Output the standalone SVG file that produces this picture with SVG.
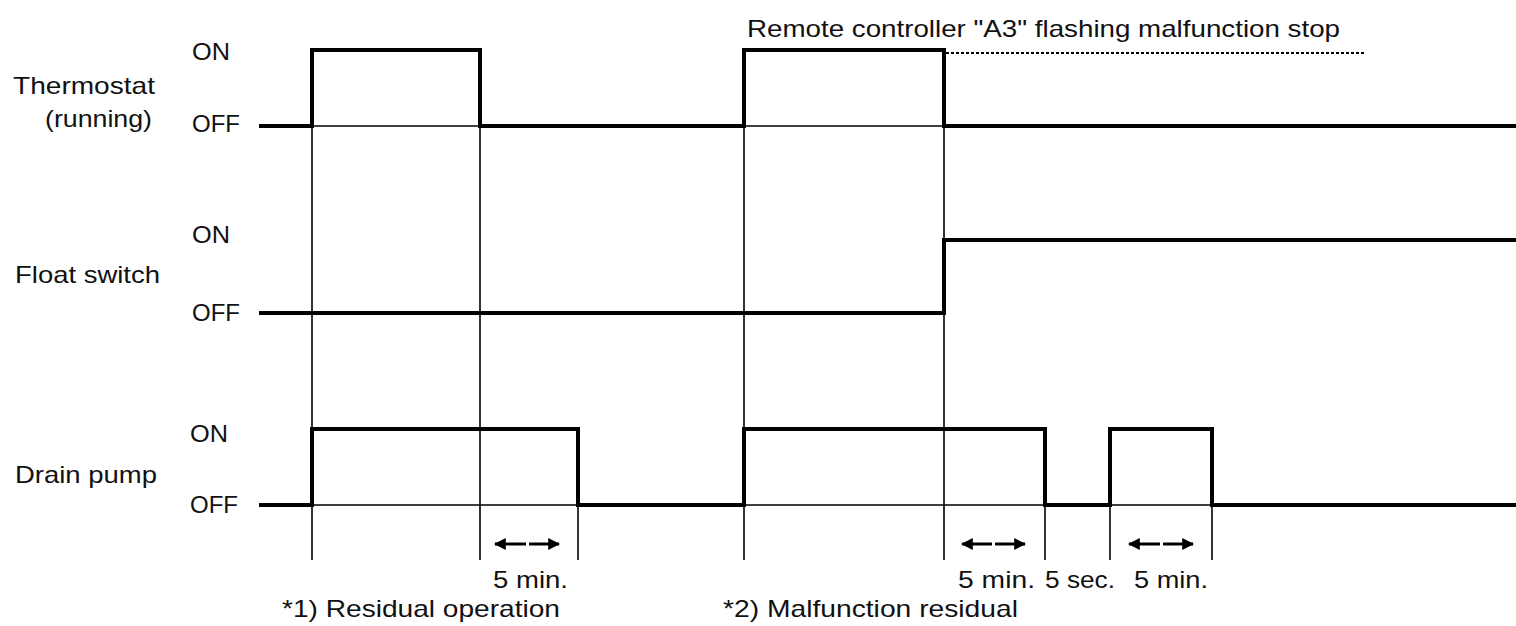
<svg xmlns="http://www.w3.org/2000/svg" width="1516" height="626" viewBox="0 0 1516 626">
<style>
  text { font-family: "Liberation Sans", Arial, sans-serif; font-size: 24px; fill: #111; }
  .thick { fill: none; stroke: #000; stroke-width: 4; stroke-linejoin: miter; stroke-linecap: butt; }
  .thin { fill: none; stroke: #000; stroke-width: 1.6; }
  .dot { fill: none; stroke: #000; stroke-width: 1.8; stroke-dasharray: 3 2; }
  .arr { fill: none; stroke: #000; stroke-width: 3; }
</style>
<defs>
  <marker id="ah" viewBox="0 0 10 10" refX="9" refY="5" markerWidth="12" markerHeight="12" markerUnits="userSpaceOnUse" orient="auto">
    <path d="M0,0 L10,5 L0,10 z" fill="#000"/>
  </marker>
</defs>
<rect width="1516" height="626" fill="#fff"/>

<g id="guides">
  <path class="thin" d="M312,127 V560 M480,127 V560 M744,127 V560 M944,127 V560 M578,505 V560 M1045,505 V560 M1110,505 V560 M1212,505 V560"/>
  <path class="thin" d="M312,126 H480 M744,126 H944 M312,505 H578 M744,505 H1045 M1110,505 H1212"/>
</g>

<g id="thermostat">
  <text x="13" y="94" textLength="142" lengthAdjust="spacingAndGlyphs">Thermostat</text>
  <text x="45" y="127" textLength="107" lengthAdjust="spacingAndGlyphs">(running)</text>
  <text x="192" y="60" textLength="38" lengthAdjust="spacingAndGlyphs">ON</text>
  <text x="192" y="132" textLength="48" lengthAdjust="spacingAndGlyphs">OFF</text>
  <path class="thick" d="M259,126 H312 V50 H480 V126 H744 V50 H944 V126 H1516"/>
  <path class="dot" d="M946,53 H1364"/>
  <text x="747" y="37" textLength="593" lengthAdjust="spacingAndGlyphs">Remote controller "A3" flashing malfunction stop</text>
</g>

<g id="float-switch">
  <text x="15" y="283" textLength="145" lengthAdjust="spacingAndGlyphs">Float switch</text>
  <text x="192" y="243" textLength="38" lengthAdjust="spacingAndGlyphs">ON</text>
  <text x="192" y="321" textLength="48" lengthAdjust="spacingAndGlyphs">OFF</text>
  <path class="thick" d="M259,313 H944 V240 H1516"/>
</g>

<g id="drain-pump">
  <text x="15" y="483" textLength="142" lengthAdjust="spacingAndGlyphs">Drain pump</text>
  <text x="190" y="442" textLength="38" lengthAdjust="spacingAndGlyphs">ON</text>
  <text x="190" y="513" textLength="48" lengthAdjust="spacingAndGlyphs">OFF</text>
  <path class="thick" d="M259,505 H312 V429 H578 V505 H744 V429 H1045 V505 H1110 V429 H1212 V505 H1516"/>
</g>

<g id="connectors">
  <line class="arr" x1="526" y1="544" x2="495" y2="544" marker-end="url(#ah)"/>
  <line class="arr" x1="529" y1="544" x2="559" y2="544" marker-end="url(#ah)"/>
  <line class="arr" x1="992" y1="544" x2="962" y2="544" marker-end="url(#ah)"/>
  <line class="arr" x1="995" y1="544" x2="1025" y2="544" marker-end="url(#ah)"/>
  <line class="arr" x1="1160" y1="544" x2="1129" y2="544" marker-end="url(#ah)"/>
  <line class="arr" x1="1163" y1="544" x2="1193" y2="544" marker-end="url(#ah)"/>
</g>

<g id="annotations">
  <text x="493" y="588" textLength="75" lengthAdjust="spacingAndGlyphs">5 min.</text>
  <text x="958" y="588" textLength="77" lengthAdjust="spacingAndGlyphs">5 min.</text>
  <text x="1045" y="588" textLength="70" lengthAdjust="spacingAndGlyphs">5 sec.</text>
  <text x="1134" y="588" textLength="74" lengthAdjust="spacingAndGlyphs">5 min.</text>
  <text x="282" y="617" textLength="278" lengthAdjust="spacingAndGlyphs">*1) Residual operation</text>
  <text x="723" y="617" textLength="295" lengthAdjust="spacingAndGlyphs">*2) Malfunction residual</text>
</g>
</svg>
